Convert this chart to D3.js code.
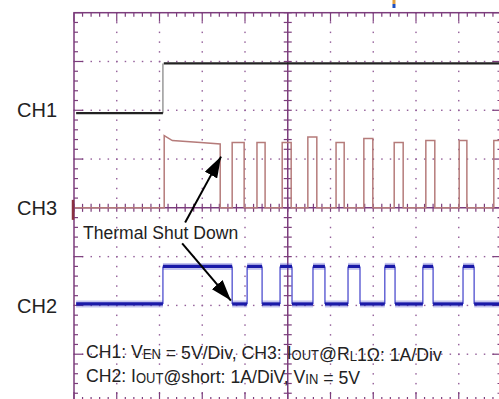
<!DOCTYPE html>
<html>
<head>
<meta charset="utf-8">
<title>Thermal Shut Down</title>
<script src="https://cdnjs.cloudflare.com/ajax/libs/d3/7.8.5/d3.min.js"></script>
<style>
  body { margin: 0; background: #fff; }
  text { font-family: "Liberation Sans", Arial, sans-serif; fill: #222; }
</style>
</head>
<body>
<script>
// all values are in scope divisions (10 x 8 screen, centre = 0,0)

// CH1 : enable, one step
var ch1Low = 1.94, ch1High = 2.96, ch1Edge = 2.08;

// CH3 : first long pulse with droop, then the hiccup pulses [rise, fall, top]
var ch3Droop = [[2.11, 1.48], [2.30, 1.38], [2.96, 1.34], [3.42, 1.31]];
var ch3Pulses = [[3.70, 3.98, 1.34], [4.28, 4.47, 1.34], [4.87, 5.08, 1.34],
                 [5.47, 5.68, 1.45], [6.13, 6.32, 1.34], [6.78, 6.99, 1.42],
                 [7.49, 7.70, 1.34], [8.23, 8.44, 1.38], [9.01, 9.19, 1.38],
                 [9.82, 10.3, 1.38]];
var ch3Low = 0;

// CH2 : short current [rise, fall]
var ch2Pulses = [[2.08, 3.70], [4.05, 4.40], [4.82, 5.10], [5.59, 5.87],
                 [6.41, 6.69], [7.27, 7.51], [8.16, 8.40], [9.10, 9.36]];
var ch2Low = -1.97, ch2High = -1.20;

// channel labels and their reference levels
var chNames = ["CH1", "CH3", "CH2"];
var chRefs = [2, 0, -2];

// annotation arrows [from, to]
var arrows = [[[2.60, -0.30], [3.44, 1.05]], [[2.53, -0.73], [3.67, -1.90]]];

var width = 499, height = 399;

var svg = d3.select("body").append("svg")
    .attr("width", width)
    .attr("height", height);

var x = d3.scaleLinear().domain([0, 10]).range([74, 501.5]);
var y = d3.scaleLinear().domain([-4, 4]).range([403, 12.7]);

var gridCol = "#7c3d7c";

// dotted graticule
var grid = svg.append("g");
d3.range(1, 10).filter(function(i) { return i != 5; }).forEach(function(i) {
  grid.selectAll(null).data(d3.range(0, 41)).enter().append("rect")
    .attr("x", x(i) - 0.7).attr("y", function(j) { return y(-4 + j / 5) - 0.6; })
    .attr("width", 1.4).attr("height", 1.5)
    .attr("fill", "#94609a");
});
d3.range(-3, 4).filter(function(k) { return k != 0; }).forEach(function(k) {
  grid.selectAll(null).data(d3.range(0, 51)).enter().append("rect")
    .attr("x", function(m) { return x(m / 5) - 0.6; }).attr("y", y(k) - 0.7)
    .attr("width", 1.5).attr("height", 1.4)
    .attr("fill", "#94609a");
});

// centre axes with cross ticks
var axes = svg.append("g").attr("stroke", gridCol).attr("stroke-width", 1.5);
axes.append("line").attr("x1", x(0)).attr("x2", x(10)).attr("y1", y(0)).attr("y2", y(0));
axes.append("line").attr("x1", x(5)).attr("x2", x(5)).attr("y1", y(4)).attr("y2", y(-4));
axes.selectAll(null).data(d3.range(0, 51)).enter().append("line")
  .attr("x1", function(m) { return x(m / 5); }).attr("x2", function(m) { return x(m / 5); })
  .attr("y1", y(0) - 4).attr("y2", y(0) + 4).attr("stroke-width", 1.2);
axes.selectAll(null).data(d3.range(0, 41)).enter().append("line")
  .attr("y1", function(j) { return y(-4 + j / 5); }).attr("y2", function(j) { return y(-4 + j / 5); })
  .attr("x1", x(5) - 4).attr("x2", x(5) + 4).attr("stroke-width", 1.2);

// border with inward ticks
function tickLen(i) { return i % 5 == 0 ? 9 : 4; }
var border = svg.append("g").attr("stroke", gridCol).attr("stroke-width", 1.5);
border.append("rect").attr("x", x(0)).attr("y", y(4))
  .attr("width", x(10) - x(0)).attr("height", y(-4) - y(4)).attr("fill", "none");
border.selectAll(null).data(d3.range(0, 51)).enter().append("line")
  .attr("x1", function(m) { return x(m / 5); }).attr("x2", function(m) { return x(m / 5); })
  .attr("y1", y(4)).attr("y2", function(m) { return y(4) + tickLen(m); }).attr("stroke-width", 1.2);
border.selectAll(null).data(d3.range(0, 51)).enter().append("line")
  .attr("x1", function(m) { return x(m / 5); }).attr("x2", function(m) { return x(m / 5); })
  .attr("y1", y(-4)).attr("y2", function(m) { return y(-4) - tickLen(m) - 2; }).attr("stroke-width", 1.2);
border.selectAll(null).data(d3.range(0, 41)).enter().append("line")
  .attr("y1", function(j) { return y(-4 + j / 5); }).attr("y2", function(j) { return y(-4 + j / 5); })
  .attr("x1", x(0)).attr("x2", function(j) { return x(0) + tickLen(j); }).attr("stroke-width", 1.2);
border.selectAll(null).data(d3.range(0, 41)).enter().append("line")
  .attr("y1", function(j) { return y(-4 + j / 5); }).attr("y2", function(j) { return y(-4 + j / 5); })
  .attr("x1", x(10)).attr("x2", function(j) { return x(10) - tickLen(j); }).attr("stroke-width", 1.2);

// small screen markers (CH3 ground, trigger)
svg.append("line").attr("x1", x(0) - 1).attr("x2", x(0) - 1)
  .attr("y1", y(0) - 8).attr("y2", y(0) + 12)
  .attr("stroke", "#8a3040").attr("stroke-width", 2.5);
svg.append("rect").attr("x", x(7.45)).attr("y", 0).attr("width", 3).attr("height", 4).attr("fill", "#e0a040");
svg.append("rect").attr("x", x(7.45)).attr("y", 4).attr("width", 3).attr("height", 4).attr("fill", "#2050c0");

var line = d3.line().x(function(d) { return x(d[0]); }).y(function(d) { return y(d[1]); });

// CH1 trace
svg.append("path")
  .attr("d", line([[ch1Edge, ch1Low], [ch1Edge, ch1High]]))
  .attr("stroke", "#888").attr("stroke-width", 1.3).attr("fill", "none");
svg.append("path")
  .attr("d", line([[0.05, ch1Low], [ch1Edge, ch1Low]]))
  .attr("stroke", "#222").attr("stroke-width", 2.2).attr("fill", "none");
svg.append("path")
  .attr("d", line([[ch1Edge + 0.02, ch1High], [10, ch1High]]))
  .attr("stroke", "#222").attr("stroke-width", 2.2).attr("fill", "none");

// CH3 trace
var ch3 = [[0.02, ch3Low], [ch3Droop[0][0], ch3Low]].concat(ch3Droop);
ch3.push([ch3Droop[ch3Droop.length - 1][0], ch3Low]);
ch3Pulses.forEach(function(p) {
  ch3.push([p[0], ch3Low], [p[0], p[2]], [p[1], p[2]], [p[1], ch3Low]);
});
svg.append("defs").append("clipPath").attr("id", "clip")
  .append("rect").attr("x", x(0)).attr("y", y(4)).attr("width", x(10) - x(0)).attr("height", y(-4) - y(4));
svg.append("path")
  .attr("d", line(ch3)).attr("clip-path", "url(#clip)")
  .attr("stroke", "#b57b7a").attr("stroke-width", 1.5).attr("fill", "none");

// CH2 trace: thin edges, thick noisy levels
var ch2Edges = svg.append("g").attr("stroke", "#5a5ad2").attr("stroke-width", 1.4);
var ch2Flat = [[0.05, ch2Pulses[0][0], ch2Low]];
ch2Pulses.forEach(function(p, i) {
  ch2Edges.append("line").attr("x1", x(p[0])).attr("x2", x(p[0])).attr("y1", y(ch2Low)).attr("y2", y(ch2High));
  ch2Edges.append("line").attr("x1", x(p[1])).attr("x2", x(p[1])).attr("y1", y(ch2Low)).attr("y2", y(ch2High));
  ch2Flat.push([p[0], p[1], ch2High]);
  var next = i + 1 < ch2Pulses.length ? ch2Pulses[i + 1][0] : 10;
  ch2Flat.push([p[1], next, ch2Low]);
});
var ch2g = svg.append("g");
ch2g.selectAll(null).data(ch2Flat).enter().append("line")
  .attr("x1", function(d) { return x(d[0]); }).attr("x2", function(d) { return x(d[1]); })
  .attr("y1", function(d) { return y(d[2]); }).attr("y2", function(d) { return y(d[2]); })
  .attr("stroke", "#3a3ac8").attr("stroke-opacity", 0.3).attr("stroke-width", 7);
ch2g.selectAll(null).data(ch2Flat).enter().append("line")
  .attr("x1", function(d) { return x(d[0]); }).attr("x2", function(d) { return x(d[1]); })
  .attr("y1", function(d) { return y(d[2]); }).attr("y2", function(d) { return y(d[2]); })
  .attr("stroke", "#1a1aa8").attr("stroke-width", 3.2);

// channel labels
svg.selectAll(".ch").data(chNames).enter().append("text")
  .attr("x", 17).attr("y", function(d, i) { return y(chRefs[i]); })
  .attr("dy", "0.36em")
  .style("font-size", "20px")
  .text(function(d) { return d; });

// annotation
svg.append("defs").append("marker")
  .attr("id", "head").attr("markerUnits", "userSpaceOnUse")
  .attr("markerWidth", 22).attr("markerHeight", 14)
  .attr("refX", 21).attr("refY", 7).attr("orient", "auto")
  .append("path").attr("d", "M0,0 L21,7 L0,14 z").attr("fill", "#000");
svg.selectAll(".arrow").data(arrows).enter().append("line")
  .attr("x1", function(d) { return x(d[0][0]); }).attr("y1", function(d) { return y(d[0][1]); })
  .attr("x2", function(d) { return x(d[1][0]); }).attr("y2", function(d) { return y(d[1][1]); })
  .attr("stroke", "#000").attr("stroke-width", 2)
  .attr("marker-end", "url(#head)");

svg.append("text")
  .attr("transform", "translate(" + x(0.21) + "," + y(-0.63) + ") scale(0.95,1)")
  .style("font-size", "18.5px")
  .text("Thermal Shut Down");

// legend text with smaller subscripts
var legend = [
  [["CH1: V", 0], ["EN", 1], [" = 5V/Div, CH3: I", 0], ["OUT", 1], ["@R", 0], ["L", 1], ["1\u03a9: 1A/Div", 0]],
  [["CH2: I", 0], ["OUT", 1], ["@short: 1A/DiV, V", 0], ["IN", 1], [" = 5V", 0]]
];
var legendY = [-3.08, -3.57];
legend.forEach(function(parts, i) {
  var t = svg.append("text")
    .attr("transform", "translate(" + x(0.28) + "," + y(legendY[i]) + ") scale(0.93,1)")
    .style("font-size", "19px");
  parts.forEach(function(p) {
    t.append("tspan")
      .attr("dy", p[1] ? 1 : 0)
      .style("font-size", p[1] ? "14px" : "19px")
      .text(p[0]);
    if (p[1]) t.append("tspan").attr("dy", -1).text("");
  });
});
</script>
</body>
</html>
